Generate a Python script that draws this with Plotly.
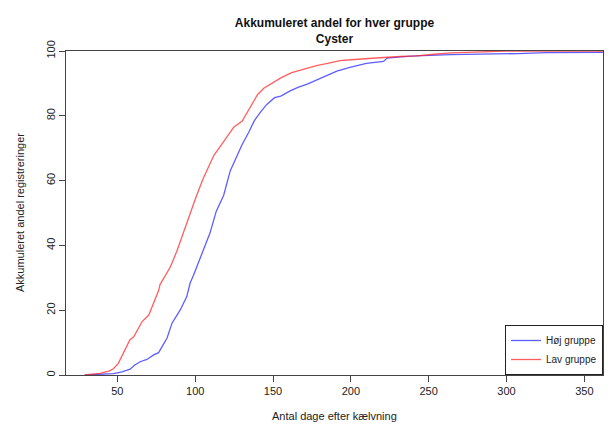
import plotly.graph_objects as go

# cumulative share (%) of registrations by days after calving
hoj_days = [29, 40, 47.6, 53, 58.2, 61, 64.6, 69, 73.3, 76.5, 79.7, 82, 85.1, 90.3, 94.6, 96.7,
            98.9, 103.1, 107.5, 109.5, 113.5, 118.3, 122.5, 124.8, 130, 134.5, 138, 141.7, 146,
            151, 155, 161, 166, 172, 177, 183, 191, 200, 210, 221, 223.3, 232, 242, 264, 285,
            307, 326, 362]
hoj_pct = [0, 0.2, 0.4, 1.0, 1.8, 3.0, 4.1, 4.8, 6.2, 6.9, 9.8, 11.5, 16, 20, 24.2, 28.3,
           30.8, 36, 41, 43.8, 50.5, 55.5, 63, 65.5, 71, 75, 78.5, 81, 83.5, 85.6, 86.1, 87.7,
           88.8, 89.8, 90.8, 92, 93.8, 95, 96.2, 96.8, 97.8, 98.2, 98.5, 98.9, 99, 99.2, 99.5,
           99.6]

lav_days = [29, 36, 38.9, 45, 47.6, 50.6, 54, 58, 60.5, 64.6, 65.9, 70.2, 73.3, 76.6, 77.4,
            84.1, 88.2, 90.5, 94.8, 97, 100.2, 105, 108, 112, 116, 119.4, 124.8, 130.2, 136.6,
            140, 144.1, 150.5, 155, 162, 172, 178, 185, 193, 200, 210, 221, 232, 242, 254, 264,
            275, 285, 300, 320, 362]
lav_pct = [0, 0.4, 0.5, 1.3, 2.0, 3.6, 6.9, 10.8, 11.8, 15.5, 16.5, 18.5, 22.2, 26.2, 27.9,
           33.4, 38.2, 41.3, 47.6, 50.5, 54.5, 60.5, 63.5, 67.8, 70.5, 72.7, 76.5, 78.4, 83.6,
           86.5, 88.5, 90.3, 91.7, 93.3, 94.8, 95.5, 96.2, 97, 97.3, 97.7, 98, 98.3, 98.5, 99,
           99.4, 99.6, 99.8, 100, 100, 100]

fig = go.Figure()
fig.add_trace(go.Scatter(x=hoj_days, y=hoj_pct, mode='lines', name='Høj gruppe',
                         line=dict(color='rgba(40,40,255,0.75)', width=1.3)))
fig.add_trace(go.Scatter(x=lav_days, y=lav_pct, mode='lines', name='Lav gruppe',
                         line=dict(color='rgba(255,40,40,0.75)', width=1.3)))

fig.update_layout(
    width=610, height=431,
    margin=dict(l=66, r=7, t=51, b=56),
    plot_bgcolor='white', paper_bgcolor='white',
    font=dict(family='Liberation Sans, Arial, sans-serif', size=11, color='#222'),
    title=dict(text='<b>Akkumuleret andel for hver gruppe<br>Cyster</b>',
               x=0.5, xref='paper', y=1 - 27 / 431, yanchor='middle',
               font=dict(size=12, color='#111')),
    legend=dict(x=1, y=0, xanchor='right', yanchor='bottom',
                bordercolor='#222', borderwidth=1, bgcolor='white',
                font=dict(size=10), tracegroupgap=0, itemwidth=30),
    showlegend=True,
)

fig.update_xaxes(range=[17, 362], tickvals=[50, 100, 150, 200, 250, 300, 350],
                 ticks='outside', ticklen=6, tickcolor='#444',
                 showline=True, linecolor='#444', linewidth=1, mirror=True,
                 showgrid=False, zeroline=False)
fig.update_yaxes(range=[0, 100], tickvals=[0, 20, 40, 60, 80, 100], tickangle=-90,
                 ticks='outside', ticklen=6, tickcolor='#444',
                 showline=True, linecolor='#444', linewidth=1, mirror=True,
                 showgrid=False, zeroline=False)

# axis titles placed like the R defaults
fig.add_annotation(text='Antal dage efter kælvning', xref='paper', yref='paper',
                   x=0.5, y=0, yanchor='middle', yshift=-41, showarrow=False,
                   font=dict(size=11))
fig.add_annotation(text='Akkumuleret andel registreringer', xref='paper', yref='paper',
                   x=0, y=0.5, xanchor='center', xshift=-46, textangle=-90,
                   showarrow=False, font=dict(size=11))

# page has a default 8px body margin; drop it so the figure fills the window
fig.write_html("out.html", config={'displayModeBar': False},
               post_script="document.body.style.margin='0px';")
